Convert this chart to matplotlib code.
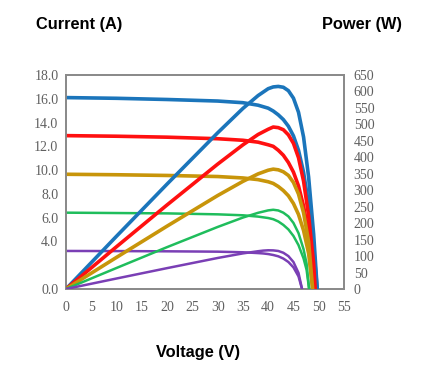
import matplotlib
matplotlib.use("Agg")
import matplotlib.pyplot as plt
import numpy as np

# Data (I-V curves at five irradiance levels)
v_blue = [0, 10, 20, 30, 35, 38, 40, 41, 42, 43, 44, 45, 46, 47, 48, 49, 49.7]
i_blue = [16.1, 16.04, 15.94, 15.81, 15.67, 15.46, 15.21, 14.97, 14.65, 14.25, 13.69, 12.88, 11.67, 9.82, 7.08, 3.38, 0]

v_red = [0, 10, 20, 30, 35, 38, 40, 41, 42, 43, 44, 45, 46, 47, 48, 49, 49.3]
i_red = [12.9, 12.85, 12.77, 12.64, 12.51, 12.35, 12.13, 12.0, 11.67, 11.25, 10.64, 9.83, 8.67, 6.97, 4.64, 1.55, 0]

v_gold = [0, 10, 20, 30, 35, 38, 40, 41, 42, 43, 44, 45, 46, 47, 48, 48.8]
i_gold = [9.65, 9.61, 9.55, 9.46, 9.34, 9.20, 9.02, 8.88, 8.62, 8.28, 7.84, 7.19, 6.27, 4.92, 2.99, 0]

v_green = [0, 10, 20, 30, 35, 38, 40, 41, 42, 43, 44, 45, 46, 47, 47.6, 48.1]
i_green = [6.42, 6.39, 6.36, 6.28, 6.20, 6.09, 5.97, 5.87, 5.68, 5.39, 5.01, 4.46, 3.69, 2.57, 1.61, 0]

v_purple = [0, 10, 20, 30, 35, 38, 39, 40, 41, 42, 43, 44, 45, 46, 46.7]
i_purple = [3.2, 3.19, 3.17, 3.14, 3.09, 3.02, 2.99, 2.94, 2.86, 2.75, 2.56, 2.27, 1.82, 1.06, 0]

x_ticks = [0, 5, 10, 15, 20, 25, 30, 35, 40, 45, 50, 55]
current_ticks = [0.0, 4.0, 6.0, 8.0, 10.0, 12.0, 14.0, 16.0, 18.0]
power_ticks = [0, 50, 100, 150, 200, 250, 300, 350, 400, 450, 500, 550, 600, 650]

series = [
    (v_blue, i_blue, "#1b75bb", 2.6),
    (v_red, i_red, "#ff1010", 2.6),
    (v_gold, i_gold, "#c8950a", 2.6),
    (v_green, i_green, "#1fbd5c", 1.8),
    (v_purple, i_purple, "#7a3fb5", 1.8),
]

fig = plt.figure(figsize=(4.33, 3.77), dpi=100)
ax = fig.add_axes([66/433, 88/377, (344-66)/433, (289-75)/377])
ax2 = ax.twinx()

for v, i, c, lw in series:
    v = np.array(v, dtype=float)
    i = np.array(i, dtype=float)
    ax.plot(v, i, color=c, lw=lw, solid_capstyle="round", zorder=3)
    ax2.plot(v, v * i, color=c, lw=lw, solid_capstyle="round", zorder=3)

ax.set_xlim(0, 55)
ax.set_ylim(0, 18)
ax2.set_ylim(0, 650)

tick_font = dict(family="Liberation Serif", size=10)
ax.set_xticks(x_ticks)
ax.set_xticklabels([str(t) for t in x_ticks], **tick_font)
ax.set_yticks(current_ticks)
ax.set_yticklabels([f"{t:.1f}" for t in current_ticks], **tick_font)
ax2.set_yticks(power_ticks)
ax2.set_yticklabels([str(t) for t in power_ticks], **tick_font)

for a in (ax, ax2):
    a.tick_params(length=0, colors="#606060")
    for s in a.spines.values():
        s.set_color("#8a8a8a")
        s.set_linewidth(1.3)
ax.tick_params(axis="y", pad=5.5)
ax.tick_params(axis="x", pad=8.5)
ax2.tick_params(axis="y", pad=7)

title_font = dict(family="Liberation Sans", weight="bold", size=11.8, color="black")
fig.text(79/433, 1 - 25/377, "Current (A)", ha="center", va="center", **title_font)
fig.text(362/433, 1 - 25/377, "Power (W)", ha="center", va="center", **title_font)
fig.text(198.5/433, 1 - 352/377, "Voltage (V)", ha="center", va="center", **title_font)

fig.savefig("out.png", dpi=100)
